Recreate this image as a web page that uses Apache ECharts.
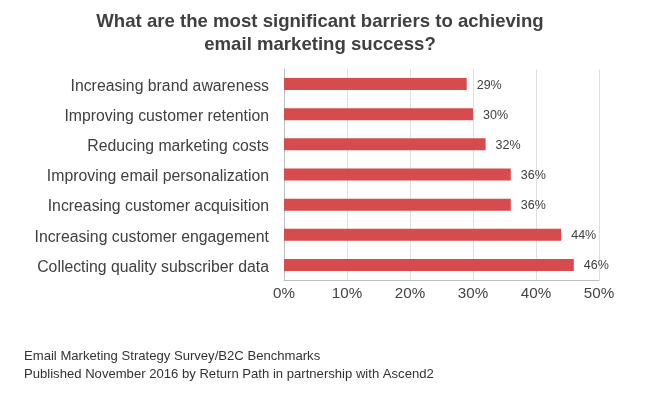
<!DOCTYPE html>
<html><head><meta charset="utf-8">
<script src="https://cdn.jsdelivr.net/npm/echarts@6/dist/echarts.min.js"></script>
<style>html,body{margin:0;padding:0;background:#fff}#c{width:671px;height:396px}</style>
</head><body><div id="c"></div>
<script>
const categories = [
  "Increasing brand awareness",
  "Improving customer retention",
  "Reducing marketing costs",
  "Improving email personalization",
  "Increasing customer acquisition",
  "Increasing customer engagement",
  "Collecting quality subscriber data"
];
const values = [29, 30, 32, 36, 36, 44, 46];
const xTicks = [0, 10, 20, 30, 40, 50];
const titleLines = ["What are the most significant barriers to achieving", "email marketing success?"];
const footerLines = ["Email Marketing Strategy Survey/B2C Benchmarks", "Published November 2016 by Return Path in partnership with Ascend2"];

const chart = echarts.init(document.getElementById('c'));
const font = "'Liberation Sans', Arial, sans-serif";
chart.setOption({
  animation: false,
  title: {
    text: titleLines.join("\n"),
    left: 315, top: 5, textAlign: 'center',
    textStyle: { fontFamily: font, fontSize: 18.6, fontWeight: 'bold', color: '#404040', lineHeight: 23 }
  },
  graphic: [{
    type: 'text', left: 24, top: 347,
    style: { text: footerLines.join("\n"), font: "13.1px " + font, fill: '#333', lineHeight: 18 }
  }],
  grid: { left: 284, right: 72, top: 69, bottom: 116, containLabel: false },
  xAxis: {
    type: 'value', min: 0, max: 50, interval: 10,
    axisLine: { show: true, lineStyle: { color: '#bdbdbd', width: 1 } },
    axisTick: { show: false },
    splitLine: { show: true, lineStyle: { color: '#e0e0e0', width: 1 } },
    axisLabel: { formatter: v => xTicks.includes(v) ? v + '%' : '', fontFamily: font, fontSize: 15.2, color: '#444', margin: 6 }
  },
  yAxis: {
    type: 'category', data: categories, inverse: true,
    axisLine: { show: true, lineStyle: { color: '#bdbdbd', width: 1 } },
    axisTick: { show: false },
    axisLabel: {
      margin: 15,
      formatter: v => '{a|' + v + '}',
      rich: { a: { fontFamily: font, fontSize: 15.8, color: '#404040', padding: [5, 0, 0, 0] } }
    }
  },
  series: [{
    type: 'bar', data: values, barWidth: 12,
    itemStyle: { color: '#d64b4e' },
    label: { show: true, position: 'right', distance: 10, offset: [0, 1], formatter: '{c}%', fontFamily: font, fontSize: 12.5, color: '#404040' }
  }]
});
</script></body></html>
